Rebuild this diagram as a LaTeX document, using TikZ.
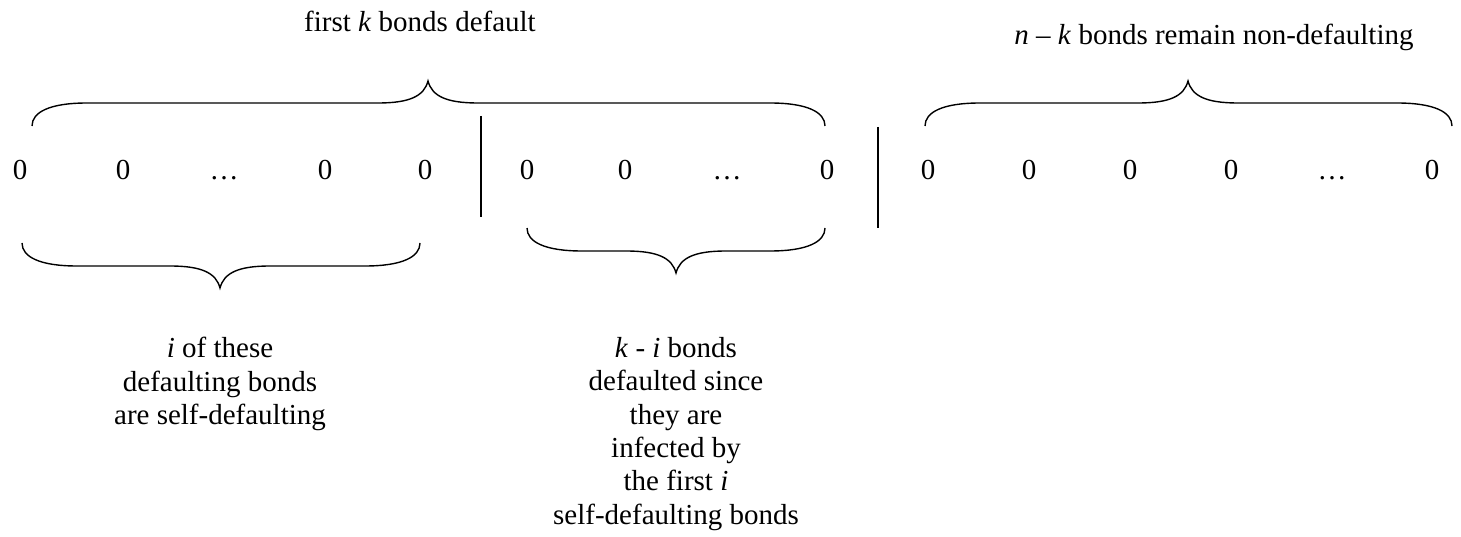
\documentclass[tikz,border=0pt]{standalone}
\usepackage{fontspec}
\setmainfont{Liberation Serif}
\newcommand{\wbrace}[5]{% x1, x2, xm, yend, dir (+1 down, -1 up)
  \draw[bracestyle] (#1,#4) .. controls (#1,{#4+#5*14}) and ({#1+18},{#4+#5*23}) .. ({#1+55},{#4+#5*23})
    -- ({#3-50},{#4+#5*23}) .. controls ({#3-18},{#4+#5*23}) and ({#3-4},{#4+#5*30}) .. (#3,{#4+#5*45})
    .. controls ({#3+4},{#4+#5*30}) and ({#3+18},{#4+#5*23}) .. ({#3+50},{#4+#5*23})
    -- ({#2-55},{#4+#5*23}) .. controls ({#2-18},{#4+#5*23}) and (#2,{#4+#5*14}) .. (#2,#4);}
\begin{document}
\begin{tikzpicture}[x=1pt,y=-1pt,
  every node/.style={font=\fontsize{29}{33.4}\selectfont, inner sep=0pt},
  digit/.style={anchor=base},
  label/.style={align=center},
  bracestyle/.style={line width=1.4pt},
  barstyle/.style={line width=2.4pt}]
\useasboundingbox (0,0) rectangle (1461,537);
% digits row
\foreach \nm/\x/\t in {a1/20/0,a2/123/0,a3/224/…,a4/325/0,a5/425/0,
                       b1/527/0,b2/625/0,b3/727/…,b4/827/0,
                       c1/928/0,c2/1029/0,c3/1130/0,c4/1231/0,c5/1332/…,c6/1432/0}
  \node[digit] (\nm) at (\x,180) {\t};
% separators
\coordinate (s1t) at (481,116); \coordinate (s1b) at (481,217);
\coordinate (s2t) at (878,127); \coordinate (s2b) at (878,228);
\draw[barstyle] (s1t) -- (s1b);
\draw[barstyle] (s2t) -- (s2b);
% braces
\wbrace{32}{825}{428}{126}{-1}
\wbrace{925}{1452}{1188}{126}{-1}
\wbrace{22}{420}{220}{243}{1}
\wbrace{527}{825}{676}{228}{1}
% labels
\node[anchor=base] (top1) at (420,32) {first \textit{k} bonds default};
\node[anchor=base] (top2) at (1214,45) {\textit{n} – \textit{k} bonds remain non-defaulting};
\node[label,anchor=north] (bot1) at (220,337) {\textit{i} of these\\defaulting bonds\\are self-defaulting};
\node[label,anchor=north] (bot2) at (676,337) {\textit{k} - \textit{i} bonds\\defaulted since\\they are\\infected by\\the first \textit{i}\\self-defaulting bonds};
\end{tikzpicture}
\end{document}
